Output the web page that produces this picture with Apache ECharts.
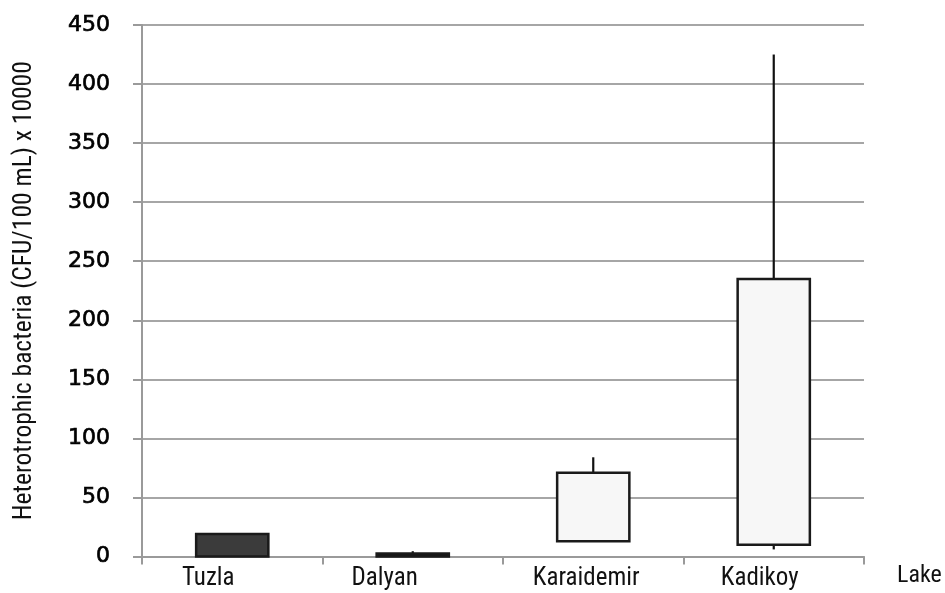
<!DOCTYPE html>
<html>
<head>
<meta charset="utf-8">
<script src="https://cdn.jsdelivr.net/npm/echarts@6/dist/echarts.min.js"></script>
<style>html,body{margin:0;padding:0;background:#fff;overflow:hidden}#c{width:945px;height:593px}</style>
</head>
<body>
<div id="c"></div>
<script>
// ---- data ----
const lakes = ['Tuzla', 'Dalyan', 'Karaidemir', 'Kadikoy'];
const boxLow = [0, 0, 13, 10];
const boxHigh = [19, 2.5, 71, 235];
const whiskerHigh = [19, 4.5, 84, 425];
const whiskerLow = [0, 0, 13, 6];
const yTicks = [0, 50, 100, 150, 200, 250, 300, 350, 400, 450];

// ---- styles (not data) ----
const boxFill = ['#3b3b3b', '#111111', '#f7f7f7', '#f7f7f7'];
const labelShift = [-24, -28, -7, -14];
const narrow = '"Roboto Condensed", "Liberation Sans", sans-serif';

const chart = echarts.init(document.getElementById('c'));
const rows = lakes.map((l, i) => [i, boxLow[i], boxHigh[i], whiskerLow[i], whiskerHigh[i]]);

chart.setOption({
  animation: false,
  grid: { left: 142, right: 81, top: 25, bottom: 36.5, containLabel: false, outerBoundsMode: 'none' },
  xAxis: {
    type: 'category',
    data: lakes.map((l, i) => ({
      value: l,
      textStyle: { padding: labelShift[i] < 0 ? [0, -2 * labelShift[i], 0, 0] : [0, 0, 0, 2 * labelShift[i]] }
    })),
    boundaryGap: true,
    name: 'Lake',
    nameLocation: 'end',
    nameGap: 33,
    nameTextStyle: { fontFamily: narrow, fontSize: 24, color: '#111', verticalAlign: 'top', lineHeight: 38 },
    axisLine: { lineStyle: { color: '#9a9a9a', width: 2 } },
    axisTick: { show: true, length: 8, lineStyle: { color: '#9a9a9a', width: 2 } },
    axisLabel: { fontFamily: narrow, fontSize: 25, color: '#111', margin: 10 },
    splitLine: { show: false }
  },
  yAxis: {
    type: 'value',
    min: yTicks[0],
    max: yTicks[yTicks.length - 1],
    interval: yTicks[1] - yTicks[0],
    name: 'Heterotrophic bacteria (CFU/100 mL) x 10000',
    nameLocation: 'middle',
    nameGap: 104,
    nameTextStyle: { fontFamily: narrow, fontSize: 25.5, color: '#111' },
    axisLine: { show: true, lineStyle: { color: '#9a9a9a', width: 2 } },
    axisTick: { show: true, length: 9, lineStyle: { color: '#9a9a9a', width: 2 } },
    axisLabel: { fontFamily: '"DejaVu Sans", Verdana, sans-serif', fontSize: 22, color: '#000',
      textBorderColor: '#000', textBorderWidth: 0.7, margin: 32 },
    splitLine: { show: true, lineStyle: { color: '#a6a6a6', width: 2 } }
  },
  series: [{
    type: 'custom',
    data: rows,
    encode: { x: 0, y: [1, 2, 3, 4] },
    renderItem: function (params, api) {
      const i = api.value(0);
      const pLow = api.coord([i, api.value(1)]);
      const pHigh = api.coord([i, api.value(2)]);
      const wLow = api.coord([i, api.value(3)]);
      const wHigh = api.coord([i, api.value(4)]);
      const bw = api.size([1, 0])[0] * 0.4;
      const cx = pLow[0];
      const children = [];
      if (wHigh[1] < pHigh[1] - 0.5) {
        children.push({ type: 'line', shape: { x1: cx, y1: pHigh[1], x2: cx, y2: wHigh[1] },
          style: { stroke: '#111', lineWidth: 2.2 } });
      }
      if (wLow[1] > pLow[1] + 0.5) {
        children.push({ type: 'line', shape: { x1: cx, y1: pLow[1], x2: cx, y2: wLow[1] },
          style: { stroke: '#111', lineWidth: 2.2 } });
      }
      children.push({ type: 'rect',
        shape: { x: cx - bw / 2, y: pHigh[1], width: bw, height: pLow[1] - pHigh[1] },
        style: { fill: boxFill[i], stroke: '#1a1a1a', lineWidth: 2.5 } });
      return { type: 'group', children: children };
    }
  }]
});
</script>
</body>
</html>
